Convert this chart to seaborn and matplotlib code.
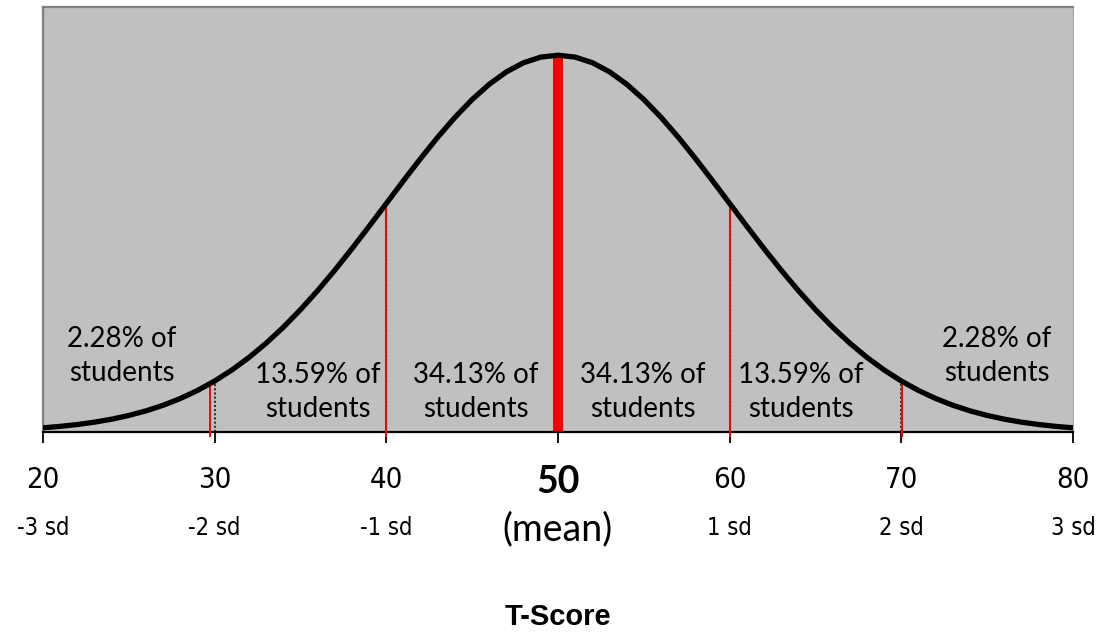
import numpy as np
import pandas as pd
import matplotlib
matplotlib.use("Agg")
import matplotlib.pyplot as plt
import matplotlib.transforms as mtransforms
import seaborn as sns

# ---- data ----
t_scores = list(range(20, 81))
# curve height (density x 1000) at each T-score 20..80
density = [0.443, 0.595, 0.792, 1.042, 1.358, 1.753, 2.239, 2.833, 3.547, 4.398,
           5.399, 6.562, 7.895, 9.405, 11.092, 12.952, 14.973, 17.137, 19.419, 21.785,
           24.197, 26.609, 28.969, 31.225, 33.322, 35.207, 36.827, 38.139, 39.104, 39.695,
           39.894,
           39.695, 39.104, 38.139, 36.827, 35.207, 33.322, 31.225, 28.969, 26.609, 24.197,
           21.785, 19.419, 17.137, 14.973, 12.952, 11.092, 9.405, 7.895, 6.562, 5.399,
           4.398, 3.547, 2.833, 2.239, 1.753, 1.358, 1.042, 0.792, 0.595, 0.443]
tick_values = [20, 30, 40, 50, 60, 70, 80]
tick_labels = ["20", "30", "40", "50", "60", "70", "80"]
sd_labels = ["-3 sd", "-2 sd", "-1 sd", "(mean)", "1 sd", "2 sd", "3 sd"]
sd_lines = [30, 40, 60, 70]
red_lines = [29.75, 40, 60, 70.06]
band_centers = [24.6, 36.0, 45.2, 54.95, 64.15, 75.57]
band_texts = ["2.28% of\nstudents", "13.59% of\nstudents", "34.13% of\nstudents",
              "34.13% of\nstudents", "13.59% of\nstudents", "2.28% of\nstudents"]
band_heights = [8.05, 4.25, 4.25, 4.25, 4.25, 8.05]
mean_value = 50
x_title = "T-Score"

df = pd.DataFrame({"T": t_scores, "density": density})
height_at = dict(zip(t_scores, density))

sns.set_style("white")
plt.rcParams['font.family'] = ['Lato', 'DejaVu Sans']
plt.rcParams['text.color'] = 'black'

fig = plt.figure(figsize=(11.07, 6.32), dpi=100)
ax = fig.add_axes([43 / 1107, 200 / 632, 1030 / 1107, 425 / 632])
ax.set_facecolor("#C0C0C0")

# mean line (under the curve)
ax.vlines(mean_value, 0, height_at[mean_value], colors="#FF0000", linewidth=7.2, zorder=2)
# dotted sd markers
ax.vlines(sd_lines, 0, [height_at[v] for v in sd_lines], colors="#303030",
          linestyles=(0, (1, 1)), linewidth=1.5, zorder=2)
# thin red markers
red_h = [height_at[30] - 0.2, height_at[40], height_at[60], height_at[70]]
ax.vlines(red_lines, -0.55, red_h, colors="#FF0000", linewidth=1.4, zorder=3, clip_on=False)

sns.lineplot(data=df, x="T", y="density", color="black", linewidth=3.8, ax=ax, zorder=4)

ax.set_xlim(20, 80)
ax.set_ylim(0, 45.0)
ax.set_yticks([])
ax.set_xticks(tick_values)
ax.set_xticklabels([""] * len(tick_values))
ax.tick_params(axis="x", direction="out", length=8, width=1.3, color="black", bottom=True)
ax.set_xlabel("")
ax.set_ylabel("")

for s in ["top", "left"]:
    ax.spines[s].set_color("#808080")
    ax.spines[s].set_linewidth(1.6)
ax.spines["right"].set_color("#A8A8A8")
ax.spines["right"].set_linewidth(0.8)
ax.spines["bottom"].set_color("black")
ax.spines["bottom"].set_linewidth(1.6)

# band annotations
for xc, yc, txt in zip(band_centers, band_heights, band_texts):
    ax.text(xc, yc, txt, ha="center", va="center", multialignment="center",
            fontsize=20, family=["Lato", "DejaVu Sans"], color="black",
            linespacing=1.4, zorder=5)

# labels under the axis
xtrans = ax.get_xaxis_transform()
num_tr = mtransforms.offset_copy(xtrans, fig=fig, x=0, y=-56, units="dots")
sd_tr = mtransforms.offset_copy(xtrans, fig=fig, x=0, y=-103, units="dots")
mean_num_tr = mtransforms.offset_copy(xtrans, fig=fig, x=0, y=-61, units="dots")
mean_lbl_tr = mtransforms.offset_copy(xtrans, fig=fig, x=0, y=-108, units="dots")
for v, lab, sdl in zip(tick_values, tick_labels, sd_labels):
    if v == mean_value:
        ax.text(v, 0, lab, transform=mean_num_tr, ha="center", va="baseline",
                fontsize=27, fontweight="bold", family=["Lato", "DejaVu Sans"], color="black")
        ax.text(v, 0, sdl, transform=mean_lbl_tr, ha="center", va="baseline",
                fontsize=27, family=["Lato", "DejaVu Sans"], color="black")
    else:
        ax.text(v, 0, lab, transform=num_tr, ha="center", va="baseline",
                fontsize=21, family=["DejaVu Sans"], fontstretch="condensed", color="black")
        ax.text(v, 0, sdl, transform=sd_tr, ha="center", va="baseline",
                fontsize=17, family=["DejaVu Sans"], fontstretch="condensed", color="black")

title_tr = mtransforms.offset_copy(xtrans, fig=fig, x=0, y=-193, units="dots")
ax.text(50, 0, x_title, transform=title_tr, ha="center", va="baseline",
        fontsize=21, fontweight="bold", family=["Liberation Sans", "DejaVu Sans"], color="black")

fig.savefig("out.png", dpi=100, facecolor="white")
